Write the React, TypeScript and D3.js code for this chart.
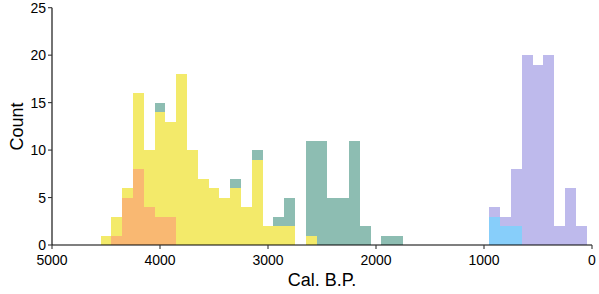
import React from "react";
import * as d3 from "d3";

const binWidth = 100;

const blueBins = [900, 800, 700];
const blueCounts = [3, 2, 2];

const purpleBins = [900, 800, 700, 600, 500, 400, 300, 200, 100];
const purpleCounts = [1, 1, 6, 20, 19, 20, 2, 6, 2];

const orangeBins = [4400, 4300, 4200, 4100, 4000, 3900];
const orangeCounts = [1, 5, 8, 4, 3, 3];

const yellowBins = [4500, 4400, 4300, 4200, 4100, 4000, 3900, 3800, 3700, 3600, 3500, 3400, 3300, 3200, 3100, 3000, 2900, 2800, 2600];
const yellowCounts = [1, 2, 1, 8, 6, 11, 10, 18, 10, 7, 6, 5, 6, 4, 9, 2, 2, 2, 1];

const tealBins = [4000, 3300, 3100, 2900, 2800, 2600, 2500, 2400, 2300, 2200, 2100, 1900, 1800];
const tealCounts = [1, 1, 1, 1, 3, 10, 11, 5, 5, 11, 2, 1, 1];

const xTicks = [5000, 4000, 3000, 2000, 1000, 0];
const yTicks = [0, 5, 10, 15, 20, 25];

const series = [
  { name: "blue", bins: blueBins, counts: blueCounts, color: "#87CEFA" },
  { name: "purple", bins: purpleBins, counts: purpleCounts, color: "#BEBAEC" },
  { name: "orange", bins: orangeBins, counts: orangeCounts, color: "#F9B872" },
  { name: "yellow", bins: yellowBins, counts: yellowCounts, color: "#F3EA6A" },
  { name: "teal", bins: tealBins, counts: tealCounts, color: "#8DBDB2" },
];

export default function App() {
  const W = 599, H = 294;
  const x = d3.scaleLinear().domain([5000, 0]).range([52, 592]);
  const y = d3.scaleLinear().domain([0, 25]).range([245, 7.7]);
  const font = "'Liberation Sans', Arial, sans-serif";

  const base = new Map<number, number>();
  const rects: { x0: number; x1: number; y0: number; y1: number; color: string; key: string }[] = [];
  series.forEach((s) => {
    s.bins.forEach((b, i) => {
      const b0 = base.get(b) || 0;
      const b1 = b0 + s.counts[i];
      base.set(b, b1);
      rects.push({
        x0: x(b + binWidth / 2),
        x1: x(b - binWidth / 2),
        y0: y(b0),
        y1: y(b1),
        color: s.color,
        key: s.name + b,
      });
    });
  });

  return (
    <svg width={W} height={H} style={{ position: "absolute", left: 0, top: 0, background: "#fff" }}>
      <rect x={0} y={0} width={W} height={H} fill="#fff" />
      {rects.map((r) => (
        <rect key={r.key} x={r.x0} y={r.y1} width={r.x1 - r.x0} height={r.y0 - r.y1} fill={r.color} shapeRendering="crispEdges" />
      ))}
      {/* y axis */}
      <line x1={52} x2={52} y1={y(25)} y2={y(0)} stroke="#000" strokeWidth={1.1} />
      {yTicks.map((t) => (
        <g key={"y" + t}>
          <line x1={48} x2={52} y1={y(t)} y2={y(t)} stroke="#333" strokeWidth={1.1} />
          <text x={46} y={y(t)} dy="0.36em" textAnchor="end" fontSize={14} fontFamily={font} fill="#000">
            {t}
          </text>
        </g>
      ))}
      {/* x axis */}
      <line x1={x(5000)} x2={x(0)} y1={245} y2={245} stroke="#000" strokeWidth={1.1} />
      {xTicks.map((t) => (
        <g key={"x" + t}>
          <line x1={x(t)} x2={x(t)} y1={245} y2={249} stroke="#333" strokeWidth={1.1} />
          <text x={x(t)} y={265} textAnchor="middle" fontSize={14} fontFamily={font} fill="#000">
            {t}
          </text>
        </g>
      ))}
      <text x={322} y={286} textAnchor="middle" fontSize={18} fontFamily={font} fill="#000">
        Cal. B.P.
      </text>
      <text transform={`translate(23, 126.5) rotate(-90)`} textAnchor="middle" fontSize={18} fontFamily={font} fill="#000">
        Count
      </text>
    </svg>
  );
}
